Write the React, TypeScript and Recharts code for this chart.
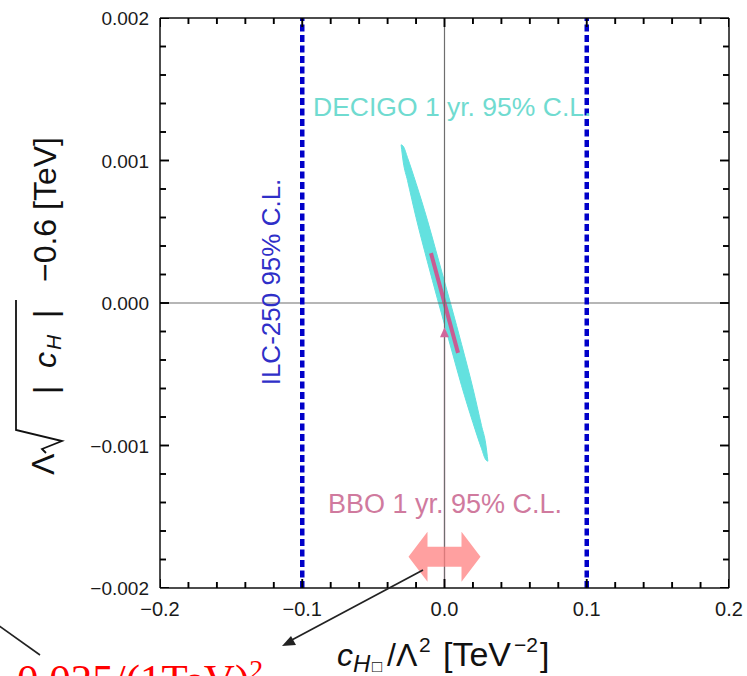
import React from 'react'
import { ComposedChart, XAxis, YAxis, Area, Line, Scatter, ReferenceLine } from 'recharts'

// ticks (minor every 0.02 / 0.0002, labelled every 0.1 / 0.001)
const xTicks = [
  -0.2, -0.18, -0.16, -0.14, -0.12, -0.1, -0.08, -0.06, -0.04, -0.02, 0,
  0.02, 0.04, 0.06, 0.08, 0.1, 0.12, 0.14, 0.16, 0.18, 0.2,
]
const xMajor = [-0.2, -0.1, 0, 0.1, 0.2]
const xLabels = ['−0.2', '−0.1', '0.0', '0.1', '0.2']

const yTicks = [
  -0.002, -0.0018, -0.0016, -0.0014, -0.0012, -0.001, -0.0008, -0.0006, -0.0004, -0.0002, 0,
  0.0002, 0.0004, 0.0006, 0.0008, 0.001, 0.0012, 0.0014, 0.0016, 0.0018, 0.002,
]
const yMajor = [-0.002, -0.001, 0, 0.001, 0.002]
const yLabels = ['−0.002', '−0.001', '0.000', '0.001', '0.002']

// DECIGO 1 yr 95% C.L. region: lower / upper edge at each x
const decigo = [
  { x: -0.0305, range: [0.00111, 0.00111] },
  { x: -0.029, range: [0.00099, 0.0011] },
  { x: -0.026, range: [0.00086, 0.00102] },
  { x: -0.02, range: [0.0006, 0.00084] },
  { x: -0.012, range: [0.00029, 0.00058] },
  { x: -0.005, range: [0.00003, 0.00033] },
  { x: 0, range: [-0.00015, 0.00015] },
  { x: 0.005, range: [-0.00033, -0.00003] },
  { x: 0.012, range: [-0.00058, -0.00029] },
  { x: 0.02, range: [-0.00084, -0.0006] },
  { x: 0.026, range: [-0.00102, -0.00086] },
  { x: 0.029, range: [-0.0011, -0.00099] },
  { x: 0.0305, range: [-0.00111, -0.00111] },
]

// BBO 1 yr 95% C.L. region
const bbo = [
  { x: -0.0095, y: 0.00035 },
  { x: 0.0095, y: -0.00035 },
]

// pink arrow pointing up to the SM point
const bboArrowLine = [
  { x: 0, y: -0.002 },
  { x: 0, y: -0.00024 },
]
const bboArrowHead = [{ x: 0, y: -0.00024 }]

// ILC-250 95% C.L. bounds
const ilcBounds = [-0.1, 0.1]

// +-0.025 double arrow
const rangeArrow = [{ x: 0, y: -0.00178 }]

const X0 = -0.2
const X1 = 0.2
const Y0 = -0.002
const Y1 = 0.002

const font = 'Liberation Sans, Arial, Helvetica, sans-serif'

const findMajor = (list: number[], v: number) => list.findIndex((m) => Math.abs(m - v) < 1e-9)

// frame tick points: one Scatter point per tick on each side, drawn inward by its shape
const bottomTicks = xTicks.map((v) => ({ x: v, y: Y0, major: findMajor(xMajor, v) >= 0 }))
const topTicks = xTicks.map((v) => ({ x: v, y: Y1, major: findMajor(xMajor, v) >= 0 }))
const leftTicks = yTicks.map((v) => ({ x: X0, y: v, major: findMajor(yMajor, v) >= 0 }))
const rightTicks = yTicks.map((v) => ({ x: X1, y: v, major: findMajor(yMajor, v) >= 0 }))

const tickMark = (dx: number, dy: number) => (p: any) => {
  const len = p.payload && p.payload.major ? 9 : 6
  return (
    <path
      d={`M${p.cx},${p.cy}L${p.cx + dx * len},${p.cy + dy * len}`}
      stroke="#000"
      strokeWidth={1.9}
      fill="none"
    />
  )
}

const xLabelTick = (props: any) => {
  const { x, payload } = props
  const i = findMajor(xMajor, payload.value)
  if (i < 0) return <g />
  return (
    <text x={x} y={616} textAnchor="middle" fontSize={20} fontFamily={font} fill="#1a1a1a">
      {xLabels[i]}
    </text>
  )
}

const yLabelTick = (props: any) => {
  const { y, payload } = props
  const i = findMajor(yMajor, payload.value)
  if (i < 0) return <g />
  return (
    <text x={149} y={y + 7} textAnchor="end" fontSize={19} fontFamily={font} fill="#1a1a1a">
      {yLabels[i]}
    </text>
  )
}

const arrowHead = (p: any) => (
  <polygon
    points={`${p.cx},${p.cy - 10} ${p.cx - 4.5},${p.cy} ${p.cx + 4.5},${p.cy}`}
    fill="#d0689c"
  />
)

const doubleArrow = (p: any) => {
  const { cx, cy } = p
  const L = 36
  const H = 19
  const hh = 25
  const sh = 10
  const pts = [
    [cx - L, cy],
    [cx - L + H, cy - hh],
    [cx - L + H, cy - sh],
    [cx + L - H, cy - sh],
    [cx + L - H, cy - hh],
    [cx + L, cy],
    [cx + L - H, cy + hh],
    [cx + L - H, cy + sh],
    [cx - L + H, cy + sh],
    [cx - L + H, cy + hh],
  ]
  return <polygon points={pts.map((q) => q.join(',')).join(' ')} fill="#ff8080" fillOpacity={0.75} />
}

const axisLine = { stroke: '#111', strokeWidth: 1.5 }

export default function App() {
  return (
    <div style={{ position: 'absolute', left: 0, top: 0, width: 747, height: 676, background: '#fff' }}>
      <ComposedChart width={747} height={676} margin={{ top: 17, right: 17, bottom: 0, left: 0 }}>
        <XAxis
          type="number"
          dataKey="x"
          domain={[X0, X1]}
          allowDataOverflow
          ticks={xTicks}
          interval={0}
          height={88}
          tickSize={0}
          tickMargin={0}
          axisLine={axisLine}
          tickLine={false}
          tick={xLabelTick}
        />
        <XAxis
          xAxisId="top"
          orientation="top"
          type="number"
          dataKey="x"
          domain={[X0, X1]}
          allowDataOverflow
          height={1}
          axisLine={axisLine}
          tickLine={false}
          tick={false}
        />
        <YAxis
          type="number"
          dataKey="y"
          domain={[Y0, Y1]}
          allowDataOverflow
          ticks={yTicks}
          interval={0}
          width={160}
          tickSize={0}
          tickMargin={0}
          axisLine={axisLine}
          tickLine={false}
          tick={yLabelTick}
        />
        <YAxis
          yAxisId="right"
          orientation="right"
          type="number"
          dataKey="y"
          domain={[Y0, Y1]}
          allowDataOverflow
          width={1}
          axisLine={axisLine}
          tickLine={false}
          tick={false}
        />

        <Area
          data={decigo}
          dataKey="range"
          type="monotone"
          stroke="#63e1df"
          strokeWidth={1}
          fill="#63e1df"
          fillOpacity={1}
          dot={false}
          activeDot={false}
          isAnimationActive={false}
        />
        <Line
          data={bbo}
          dataKey="y"
          type="linear"
          stroke="#c95c93"
          strokeWidth={4}
          dot={false}
          activeDot={false}
          isAnimationActive={false}
        />
        <Line
          data={bboArrowLine}
          dataKey="y"
          type="linear"
          stroke="#d47aa6"
          strokeWidth={1.3}
          dot={false}
          activeDot={false}
          isAnimationActive={false}
        />
        <Scatter data={bboArrowHead} shape={arrowHead} isAnimationActive={false} />
        <Scatter data={rangeArrow} shape={doubleArrow} isAnimationActive={false} />

        <ReferenceLine x={0} stroke="#6e6e6e" strokeWidth={1.2} />
        <ReferenceLine y={0} stroke="#6e6e6e" strokeWidth={1.2} />
        {ilcBounds.map((b) => (
          <ReferenceLine key={b} x={b} stroke="#0000c8" strokeWidth={4.5} strokeDasharray="7 3.5" />
        ))}

        {/* inward frame ticks */}
        <Scatter data={bottomTicks} shape={tickMark(0, -1)} isAnimationActive={false} />
        <Scatter data={topTicks} shape={tickMark(0, 1)} isAnimationActive={false} />
        <Scatter data={leftTicks} shape={tickMark(1, 0)} isAnimationActive={false} />
        <Scatter data={rightTicks} shape={tickMark(-1, 0)} isAnimationActive={false} />
      </ComposedChart>

      <svg
        width={747}
        height={676}
        style={{ position: 'absolute', left: 0, top: 0, pointerEvents: 'none' }}
        fontFamily={font}
      >
        <text x={313} y={116} fontSize={26.5} fill="#70dbd0">
          DECIGO 1 yr. 95% C.L.
        </text>
        <text x={328} y={513} fontSize={27} fill="#d07a9e">
          BBO 1 yr. 95% C.L.
        </text>
        <text
          transform="translate(280,282) rotate(-90)"
          textAnchor="middle"
          fontSize={26}
          fill="#2f2fc8"
        >
          ILC-250 95% C.L.
        </text>

        {/* y axis title */}
        <g transform="translate(56,302) rotate(-90)" fill="#111">
          <text x={-173} y={-2} fontSize={32}>Λ</text>
          <polyline
            points="-151,-10 -147,-14 -139,6 -128,-40 2,-40"
            fill="none"
            stroke="#111"
            strokeWidth={1.8}
          />
          <text x={-92} y={0} fontSize={32}>|</text>
          <text x={-66} y={0} fontSize={32} fontStyle="italic">c</text>
          <text x={-48} y={5} fontSize={21} fontStyle="italic">H</text>
          <text x={-16} y={0} fontSize={32}>|</text>
          <text x={20} y={0} fontSize={32}>−0.6 [TeV]</text>
        </g>

        {/* x axis title */}
        <text fill="#111">
          <tspan x={337} y={666} fontSize={32} fontStyle="italic">c</tspan>
          <tspan x={353} y={672} fontSize={24} fontStyle="italic">H</tspan>
          <tspan x={372} y={672} fontSize={17}>□</tspan>
          <tspan x={387} y={666} fontSize={32}>/Λ</tspan>
          <tspan x={419} y={652} fontSize={21}>2</tspan>
          <tspan x={443} y={666} fontSize={34}>[TeV</tspan>
          <tspan x={514} y={652} fontSize={21}>−2</tspan>
          <tspan x={540} y={666} fontSize={34}>]</tspan>
        </text>

        {/* annotation */}
        <line x1={423} y1={570} x2={288} y2={642} stroke="#222" strokeWidth={1.6} />
        <polygon points="282,646 291,636 296,645" fill="#222" />
        <line x1={-5} y1={623} x2={40} y2={655} stroke="#222" strokeWidth={1.6} />
        <text x={17} y={694} fontSize={43} fill="#ff0000" fontFamily="Liberation Serif, Times New Roman, serif">
          0.025/(1TeV)
          <tspan fontSize={28} dy={-15}>2</tspan>
        </text>
      </svg>
    </div>
  )
}
